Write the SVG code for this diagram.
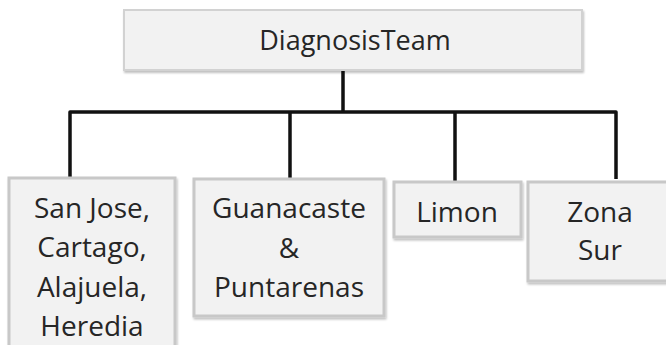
<svg xmlns="http://www.w3.org/2000/svg" width="666" height="345" viewBox="0 0 666 345">
<defs>
<filter id="sh" x="-10%" y="-10%" width="120%" height="130%">
<feGaussianBlur in="SourceAlpha" stdDeviation="1.2"/>
<feOffset dx="0.5" dy="1.5"/>
<feComponentTransfer><feFuncA type="linear" slope="0.25"/></feComponentTransfer>
<feMerge><feMergeNode/><feMergeNode in="SourceGraphic"/></feMerge>
</filter>
</defs>
<style>
.box{fill:#f2f2f2;stroke:#c8c8c8;stroke-width:3;filter:url(#sh)}
.top{fill:#f2f2f2;stroke:#d2d2d2;stroke-width:2;filter:url(#sh)}
.t{font-family:"Open Sans","Liberation Sans",sans-serif;font-size:28px;fill:#262626;text-anchor:middle}
.conn{fill:none;stroke:#111;stroke-width:3.5;stroke-linejoin:round;stroke-linecap:butt}
</style>
<g id="connectors">
<path class="conn" d="M343,70 V112"/>
<path class="conn" d="M70,178 V112 H616 V179"/>
<path class="conn" d="M290,112 V178"/>
<path class="conn" d="M455,112 V181"/>
</g>
<g id="n0">
<rect class="top" x="124" y="10" width="458" height="60"/>
<text class="t" x="355" y="50" style="font-size:27px">DiagnosisTeam</text>
</g>
<g id="n1">
<rect class="box" x="9" y="178" width="166" height="180"/>
<text class="t" x="92" y="218">San Jose,</text>
<text class="t" x="92" y="257">Cartago,</text>
<text class="t" x="92" y="297">Alajuela,</text>
<text class="t" x="92" y="336">Heredia</text>
</g>
<g id="n2">
<rect class="box" x="194" y="179" width="190" height="137"/>
<text class="t" x="289" y="218">Guanacaste</text>
<text class="t" x="289" y="258">&amp;</text>
<text class="t" x="289" y="297">Puntarenas</text>
</g>
<g id="n3">
<rect class="box" x="394" y="182" width="127" height="55"/>
<text class="t" x="457" y="222">Limon</text>
</g>
<g id="n4">
<rect class="box" x="528" y="182" width="146" height="99"/>
<text class="t" x="600" y="222">Zona</text>
<text class="t" x="600" y="260">Sur</text>
</g>
</svg>
